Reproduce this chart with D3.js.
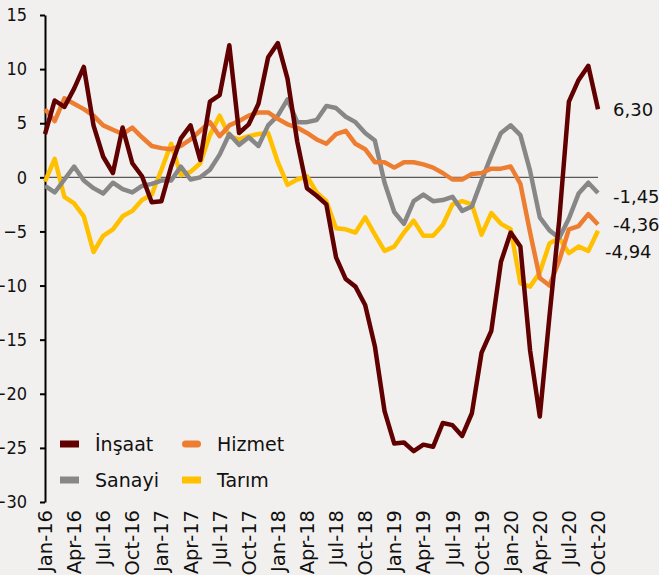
<!DOCTYPE html>
<html>
<head>
<meta charset="utf-8">
<script src="https://cdn.jsdelivr.net/npm/d3@7"></script>
<style>
  html, body { margin: 0; padding: 0; background: #f2f0ee; }
  svg { display: block; }
</style>
</head>
<body>
<svg id="chart" width="659" height="575"></svg>
<script>
// --- data ---
var tickLabels = ["Jan-16","Apr-16","Jul-16","Oct-16","Jan-17","Apr-17","Jul-17","Oct-17","Jan-18","Apr-18",
                  "Jul-18","Oct-18","Jan-19","Apr-19","Jul-19","Oct-19","Jan-20","Apr-20","Jul-20","Oct-20"];

var insaat = [4.0, 7.1, 6.5, 8.2, 10.2, 4.8, 1.9, 0.4, 4.6, 1.3, 0.1, -2.3, -2.2, 1.0, 3.6, 4.8, 1.6, 7.0, 7.6, 12.2,
              4.1, 4.9, 6.8, 11.1, 12.4, 9.1, 3.3, -1.0, -1.7, -2.5, -7.4, -9.4, -10.1, -11.8, -15.6, -21.6, -24.6, -24.5,
              -25.3, -24.7, -24.9, -22.7, -22.9, -23.9, -21.8, -16.2, -14.2, -7.8, -5.1, -6.4, -16.0, -22.1, -12.8, -4.0,
              7.0, 9.0, 10.3, 6.30];
var hizmet = [6.3, 5.2, 7.3, 6.8, 6.3, 5.7, 4.8, 4.4, 4.0, 4.6, 3.7, 2.9, 2.7, 2.6, 2.9, 3.5, 4.3, 5.1, 3.8, 4.8,
              5.2, 5.7, 6.0, 6.0, 5.4, 4.9, 4.6, 4.1, 3.5, 3.1, 4.0, 4.3, 3.1, 2.6, 1.4, 1.4, 0.9, 1.4, 1.4, 1.2,
              0.9, 0.4, -0.2, -0.2, 0.3, 0.4, 0.8, 0.8, 1.0, -0.6, -5.1, -9.3, -10.0, -7.7, -4.8, -4.5, -3.4, -4.36];
var sanayi = [-0.8, -1.4, -0.2, 1.0, -0.3, -1.0, -1.5, -0.5, -1.1, -1.4, -0.8, -0.6, -0.3, -0.3, 1.0, -0.2, 0.0, 0.7, 2.1, 4.0,
              3.0, 3.7, 2.9, 4.8, 5.7, 7.2, 5.1, 5.1, 5.3, 6.6, 6.4, 5.6, 5.1, 4.1, 3.4, -0.5, -3.2, -4.3, -2.2, -1.6,
              -2.2, -2.1, -1.8, -3.1, -2.7, -0.3, 2.0, 4.1, 4.8, 3.9, 0.6, -3.7, -4.9, -5.6, -3.8, -1.5, -0.5, -1.45];
var tarim = [-0.4, 1.7, -1.8, -2.4, -3.6, -6.9, -5.4, -4.8, -3.6, -3.1, -2.1, -1.6, 0.7, 3.1, 0.2, 0.5, 1.3, 3.9, 5.7, 3.8,
             3.5, 3.8, 4.0, 4.1, 1.4, -0.7, -0.2, 0.1, -1.4, -2.2, -4.7, -4.8, -5.1, -3.7, -5.3, -6.8, -6.4, -5.1, -4.0, -5.4,
             -5.4, -4.4, -2.5, -2.2, -2.5, -5.3, -3.3, -4.3, -4.8, -9.8, -10.1, -8.8, -6.1, -5.6, -7.0, -6.4, -6.8, -4.94];

var yTicks = [-30, -25, -20, -15, -10, -5, 0, 5, 10, 15];

// series: drawn bottom to top, legend slot = [col, row]
var series = [
    { name: "Tarım",  values: tarim,  color: "#ffc000", slot: [1, 1], label: "-4,94", dx: -8, dy: 21 },
    { name: "Sanayi", values: sanayi, color: "#878787", slot: [0, 1], label: "-1,45", dx: 0,  dy: 3 },
    { name: "Hizmet", values: hizmet, color: "#ed7d31", slot: [1, 0], label: "-4,36", dx: 0,  dy: 0 },
    { name: "İnşaat", values: insaat, color: "#600000", slot: [0, 0], label: "6,30",  dx: 0,  dy: 0 }
];

// months Jan-16 .. Oct-20
var fmt = d3.timeFormat("%b-%y");
var months = d3.timeMonth.range(new Date(2016, 0, 1), new Date(2020, 10, 1)).map(fmt);

// --- scales ---
var x = d3.scalePoint().domain(months).range([45, 598]);
var y = d3.scaleLinear().domain([-30, 15]).range([502, 15]);

var svg = d3.select("#chart");

svg.append("rect").attr("width", 659).attr("height", 575).attr("fill", "#f2f0ee");

// zero line
svg.append("line")
    .attr("x1", x.range()[0]).attr("x2", x.range()[1])
    .attr("y1", y(0)).attr("y2", y(0))
    .attr("stroke", "#595959").attr("stroke-width", 1.3);

// y axis
var yAxis = svg.append("g")
    .attr("transform", "translate(45,0)")
    .call(d3.axisLeft(y).tickValues(yTicks).tickSize(5).tickSizeOuter(0).tickPadding(13));
yAxis.select(".domain").attr("stroke", "#000").attr("stroke-width", 2);
yAxis.selectAll(".tick line").attr("stroke", "#000").attr("stroke-width", 2);
yAxis.selectAll(".tick text")
    .attr("fill", "#111")
    .style("font-family", "'DejaVu Sans Condensed', 'DejaVu Sans', sans-serif")
    .style("font-size", "18px");

// x labels (rotated)
svg.append("g").selectAll("text")
    .data(tickLabels)
    .enter().append("text")
    .attr("transform", d => "translate(" + x(d) + ",510) rotate(-90)")
    .attr("text-anchor", "end")
    .attr("dy", "0.36em")
    .attr("fill", "#111")
    .style("font-family", "'DejaVu Sans', sans-serif")
    .style("font-size", "19.5px")
    .text(d => d);

// lines
var line = d3.line()
    .x((d, i) => x(months[i]))
    .y(d => y(d));

svg.append("g").selectAll("path")
    .data(series)
    .enter().append("path")
    .attr("d", d => line(d.values))
    .attr("fill", "none")
    .attr("stroke", d => d.color)
    .attr("stroke-width", 4.5)
    .attr("stroke-linejoin", "round");

// end labels
svg.append("g").selectAll("text")
    .data(series)
    .enter().append("text")
    .attr("x", d => x(months[months.length - 1]) + 15 + d.dx)
    .attr("y", d => y(d.values[d.values.length - 1]) + d.dy)
    .attr("dy", "0.36em")
    .attr("fill", "#111")
    .style("font-family", "'DejaVu Sans', sans-serif")
    .style("font-size", "18px")
    .text(d => d.label);

// legend
var legend = svg.append("g");
var leg = legend.selectAll("g")
    .data(series)
    .enter().append("g")
    .attr("transform", d => "translate(" + (60 + d.slot[0] * 122) + "," + (444 + d.slot[1] * 36) + ")");
leg.append("rect")
    .attr("x", 0).attr("y", -3.5)
    .attr("width", 19).attr("height", 7)
    .attr("rx", d => d.name === "Hizmet" ? 3.5 : 0)
    .attr("fill", d => d.color);
leg.append("text")
    .attr("x", 35)
    .attr("dy", "0.36em")
    .attr("fill", "#111")
    .style("font-family", "'DejaVu Sans', sans-serif")
    .style("font-size", "19px")
    .text(d => d.name);
</script>
</body>
</html>
